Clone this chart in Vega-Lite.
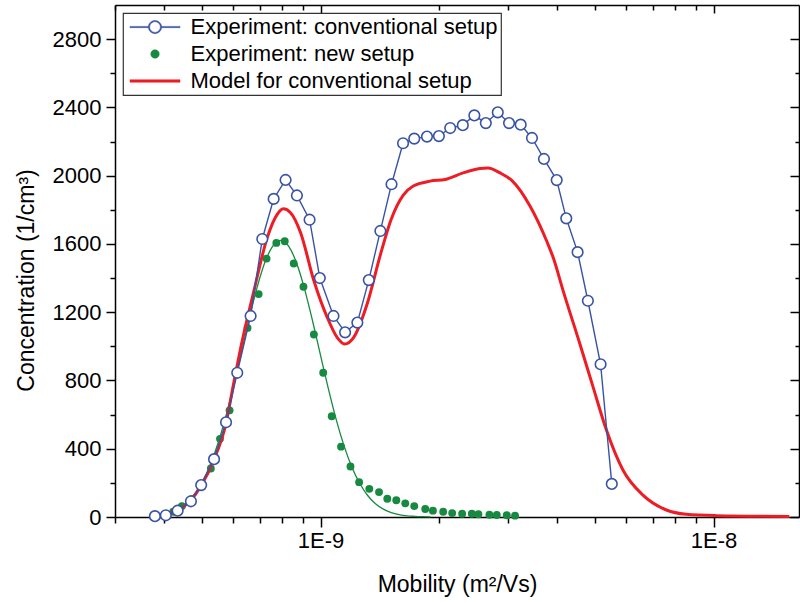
{
  "$schema": "https://vega.github.io/schema/vega-lite/v6.json",
  "autosize": "none",
  "width": 684,
  "height": 512,
  "padding": {"left": 115, "top": 5, "right": 1, "bottom": 86},
  "background": "white",
  "config": {
    "view": {"stroke": null},
    "font": "Liberation Sans",
    "axis": {
      "grid": false,
      "domainColor": "black",
      "domainWidth": 1.5,
      "tickColor": "black",
      "tickWidth": 1.5,
      "labelFont": "Liberation Sans",
      "labelFontSize": 22,
      "labelColor": "black",
      "titleFont": "Liberation Sans",
      "titleFontSize": 23,
      "titleFontWeight": "normal",
      "titleColor": "black",
      "labelFlush": false,
      "labelOverlap": false,
      "labelBound": false
    },
    "legend": {
      "labelFont": "Liberation Sans",
      "labelFontSize": 22,
      "labelColor": "black"
    }
  },
  "datasets": {
    "conventional": [
      {"mobility": 3.79e-10, "conc": 5},
      {"mobility": 4.04e-10, "conc": 10},
      {"mobility": 4.33e-10, "conc": 37},
      {"mobility": 4.68e-10, "conc": 92},
      {"mobility": 4.97e-10, "conc": 187},
      {"mobility": 5.36e-10, "conc": 339},
      {"mobility": 5.75e-10, "conc": 555},
      {"mobility": 6.14e-10, "conc": 845},
      {"mobility": 6.64e-10, "conc": 1178},
      {"mobility": 7.11e-10, "conc": 1629},
      {"mobility": 7.60e-10, "conc": 1864},
      {"mobility": 8.15e-10, "conc": 1975},
      {"mobility": 8.71e-10, "conc": 1884},
      {"mobility": 9.38e-10, "conc": 1742},
      {"mobility": 9.96e-10, "conc": 1400},
      {"mobility": 1.079e-9, "conc": 1178},
      {"mobility": 1.155e-9, "conc": 1082},
      {"mobility": 1.241e-9, "conc": 1139},
      {"mobility": 1.327e-9, "conc": 1388},
      {"mobility": 1.420e-9, "conc": 1676},
      {"mobility": 1.516e-9, "conc": 1950},
      {"mobility": 1.622e-9, "conc": 2190},
      {"mobility": 1.732e-9, "conc": 2217},
      {"mobility": 1.866e-9, "conc": 2229},
      {"mobility": 2.001e-9, "conc": 2232},
      {"mobility": 2.138e-9, "conc": 2279},
      {"mobility": 2.302e-9, "conc": 2296},
      {"mobility": 2.463e-9, "conc": 2353},
      {"mobility": 2.634e-9, "conc": 2308},
      {"mobility": 2.825e-9, "conc": 2371},
      {"mobility": 3.018e-9, "conc": 2308},
      {"mobility": 3.231e-9, "conc": 2299},
      {"mobility": 3.452e-9, "conc": 2221},
      {"mobility": 3.703e-9, "conc": 2098},
      {"mobility": 3.99e-9, "conc": 1974},
      {"mobility": 4.22e-9, "conc": 1750},
      {"mobility": 4.51e-9, "conc": 1552},
      {"mobility": 4.79e-9, "conc": 1267},
      {"mobility": 5.16e-9, "conc": 895},
      {"mobility": 5.51e-9, "conc": 194}
    ],
    "newsetup": [
      {"mobility": 4.22e-10, "conc": 31},
      {"mobility": 4.44e-10, "conc": 64},
      {"mobility": 4.69e-10, "conc": 105},
      {"mobility": 4.96e-10, "conc": 180},
      {"mobility": 5.26e-10, "conc": 284},
      {"mobility": 5.55e-10, "conc": 458},
      {"mobility": 5.87e-10, "conc": 625},
      {"mobility": 6.17e-10, "conc": 841},
      {"mobility": 6.52e-10, "conc": 1108},
      {"mobility": 6.96e-10, "conc": 1306},
      {"mobility": 7.29e-10, "conc": 1514},
      {"mobility": 7.72e-10, "conc": 1606},
      {"mobility": 8.11e-10, "conc": 1616},
      {"mobility": 8.55e-10, "conc": 1485},
      {"mobility": 9.05e-10, "conc": 1349},
      {"mobility": 9.62e-10, "conc": 1069},
      {"mobility": 1.016e-9, "conc": 845},
      {"mobility": 1.068e-9, "conc": 590},
      {"mobility": 1.128e-9, "conc": 412},
      {"mobility": 1.192e-9, "conc": 296},
      {"mobility": 1.254e-9, "conc": 204},
      {"mobility": 1.331e-9, "conc": 165},
      {"mobility": 1.409e-9, "conc": 146},
      {"mobility": 1.479e-9, "conc": 107},
      {"mobility": 1.559e-9, "conc": 98},
      {"mobility": 1.643e-9, "conc": 80},
      {"mobility": 1.732e-9, "conc": 64},
      {"mobility": 1.847e-9, "conc": 47},
      {"mobility": 1.932e-9, "conc": 37},
      {"mobility": 2.052e-9, "conc": 31},
      {"mobility": 2.163e-9, "conc": 23},
      {"mobility": 2.293e-9, "conc": 19},
      {"mobility": 2.427e-9, "conc": 19},
      {"mobility": 2.522e-9, "conc": 16},
      {"mobility": 2.690e-9, "conc": 13},
      {"mobility": 2.809e-9, "conc": 12},
      {"mobility": 2.978e-9, "conc": 10},
      {"mobility": 3.126e-9, "conc": 8}
    ],
    "newfit": [
      {"mobility": 3.981e-10, "conc": 16},
      {"mobility": 4.169e-10, "conc": 29},
      {"mobility": 4.365e-10, "conc": 50},
      {"mobility": 4.571e-10, "conc": 84},
      {"mobility": 4.786e-10, "conc": 135},
      {"mobility": 5.012e-10, "conc": 208},
      {"mobility": 5.248e-10, "conc": 309},
      {"mobility": 5.495e-10, "conc": 438},
      {"mobility": 5.754e-10, "conc": 597},
      {"mobility": 6.026e-10, "conc": 780},
      {"mobility": 6.310e-10, "conc": 978},
      {"mobility": 6.607e-10, "conc": 1176},
      {"mobility": 6.918e-10, "conc": 1356},
      {"mobility": 7.244e-10, "conc": 1501},
      {"mobility": 7.586e-10, "conc": 1592},
      {"mobility": 7.943e-10, "conc": 1621},
      {"mobility": 8.318e-10, "conc": 1583},
      {"mobility": 8.710e-10, "conc": 1482},
      {"mobility": 9.120e-10, "conc": 1331},
      {"mobility": 9.550e-10, "conc": 1147},
      {"mobility": 1.000e-9, "conc": 948},
      {"mobility": 1.047e-9, "conc": 752},
      {"mobility": 1.096e-9, "conc": 572},
      {"mobility": 1.148e-9, "conc": 417},
      {"mobility": 1.202e-9, "conc": 292},
      {"mobility": 1.259e-9, "conc": 196},
      {"mobility": 1.318e-9, "conc": 126},
      {"mobility": 1.380e-9, "conc": 78},
      {"mobility": 1.445e-9, "conc": 46},
      {"mobility": 1.514e-9, "conc": 26},
      {"mobility": 1.585e-9, "conc": 14},
      {"mobility": 1.660e-9, "conc": 7},
      {"mobility": 1.738e-9, "conc": 4},
      {"mobility": 1.820e-9, "conc": 2},
      {"mobility": 1.905e-9, "conc": 1}
    ],
    "model": [
      {"mobility": 3.70e-10, "conc": 3},
      {"mobility": 4.04e-10, "conc": 15},
      {"mobility": 4.34e-10, "conc": 41},
      {"mobility": 4.68e-10, "conc": 99},
      {"mobility": 4.96e-10, "conc": 181},
      {"mobility": 5.35e-10, "conc": 333},
      {"mobility": 5.74e-10, "conc": 543},
      {"mobility": 6.02e-10, "conc": 790},
      {"mobility": 6.27e-10, "conc": 994},
      {"mobility": 6.77e-10, "conc": 1325},
      {"mobility": 7.32e-10, "conc": 1637},
      {"mobility": 7.76e-10, "conc": 1773},
      {"mobility": 8.04e-10, "conc": 1806},
      {"mobility": 8.39e-10, "conc": 1783},
      {"mobility": 8.90e-10, "conc": 1666},
      {"mobility": 9.62e-10, "conc": 1384},
      {"mobility": 1.040e-9, "conc": 1170},
      {"mobility": 1.102e-9, "conc": 1053},
      {"mobility": 1.152e-9, "conc": 1014},
      {"mobility": 1.215e-9, "conc": 1053},
      {"mobility": 1.314e-9, "conc": 1248},
      {"mobility": 1.420e-9, "conc": 1536},
      {"mobility": 1.514e-9, "conc": 1746},
      {"mobility": 1.624e-9, "conc": 1886},
      {"mobility": 1.722e-9, "conc": 1939},
      {"mobility": 1.902e-9, "conc": 1968},
      {"mobility": 2.076e-9, "conc": 1978},
      {"mobility": 2.306e-9, "conc": 2016},
      {"mobility": 2.546e-9, "conc": 2042},
      {"mobility": 2.669e-9, "conc": 2045},
      {"mobility": 2.863e-9, "conc": 2016},
      {"mobility": 3.066e-9, "conc": 1972},
      {"mobility": 3.412e-9, "conc": 1822},
      {"mobility": 3.762e-9, "conc": 1617},
      {"mobility": 3.909e-9, "conc": 1520},
      {"mobility": 4.144e-9, "conc": 1325},
      {"mobility": 4.571e-9, "conc": 1014},
      {"mobility": 4.939e-9, "conc": 761},
      {"mobility": 5.342e-9, "conc": 508},
      {"mobility": 5.886e-9, "conc": 274},
      {"mobility": 6.614e-9, "conc": 128},
      {"mobility": 7.586e-9, "conc": 41},
      {"mobility": 8.52e-9, "conc": 16},
      {"mobility": 1.016e-8, "conc": 8},
      {"mobility": 1.559e-8, "conc": 3}
    ]
  },
  "resolve": {"axis": {"x": "independent", "y": "independent"}},
  "layer": [
    {
      "data": {"name": "newfit"},
      "mark": {"type": "line", "color": "#178a41", "strokeWidth": 1.3, "interpolate": "monotone"},
      "encoding": {
        "x": {
          "field": "mobility", "type": "quantitative",
          "scale": {"type": "log", "domain": [3e-10, 1.65e-8], "nice": false},
          "axis": {
            "orient": "bottom",
            "title": "Mobility (m²/Vs)",
            "values": [3e-10, 4e-10, 5e-10, 6e-10, 7e-10, 8e-10, 9e-10, 1e-9, 2e-9, 3e-9, 4e-9, 5e-9, 6e-9, 7e-9, 8e-9, 9e-9, 1e-8],
            "labelExpr": "abs(log(datum.value)/LN10 - round(log(datum.value)/LN10)) < 1e-6 ? '1E' + round(log(datum.value)/LN10) : ''",
            "tickSize": {"condition": {"test": "abs(log(datum.value)/LN10 - round(log(datum.value)/LN10)) < 1e-6", "value": 10}, "value": 6},
            "labelPadding": 3,
            "titlePadding": 22
          }
        },
        "y": {
          "field": "conc", "type": "quantitative",
          "scale": {"domain": [0, 3000], "nice": false},
          "axis": {
            "orient": "left",
            "title": "Concentration (1/cm³)",
            "values": [0, 200, 400, 600, 800, 1000, 1200, 1400, 1600, 1800, 2000, 2200, 2400, 2600, 2800],
            "labelExpr": "datum.value % 400 === 0 ? '' + datum.value : ''",
            "tickSize": {"condition": {"test": "datum.value % 400 === 0", "value": 9}, "value": 5},
            "labelPadding": 5,
            "titlePadding": 14,
            "titleY": 275
          }
        }
      }
    },
    {
      "data": {"name": "newsetup"},
      "mark": {"type": "circle", "size": 62, "opacity": 1},
      "encoding": {
        "x": {"field": "mobility", "type": "quantitative", "scale": {"type": "log", "domain": [3e-10, 1.65e-8], "nice": false}, "axis": null},
        "y": {"field": "conc", "type": "quantitative", "scale": {"domain": [0, 3000], "nice": false}, "axis": null},
        "color": {"datum": "Experiment: new setup", "type": "nominal"}
      }
    },
    {
      "data": {"name": "model"},
      "mark": {"type": "line", "strokeWidth": 3, "interpolate": "monotone"},
      "encoding": {
        "x": {"field": "mobility", "type": "quantitative", "scale": {"type": "log", "domain": [3e-10, 1.65e-8], "nice": false}, "axis": null},
        "y": {"field": "conc", "type": "quantitative", "scale": {"domain": [0, 3000], "nice": false}, "axis": null},
        "color": {"datum": "Model for conventional setup", "type": "nominal"}
      }
    },
    {
      "data": {"name": "conventional"},
      "mark": {"type": "line", "strokeWidth": 1.4},
      "encoding": {
        "x": {"field": "mobility", "type": "quantitative", "scale": {"type": "log", "domain": [3e-10, 1.65e-8], "nice": false}, "axis": null},
        "y": {"field": "conc", "type": "quantitative", "scale": {"domain": [0, 3000], "nice": false}, "axis": null},
        "color": {
          "datum": "Experiment: conventional setup",
          "type": "nominal",
          "scale": {
            "domain": ["Experiment: conventional setup", "Experiment: new setup", "Model for conventional setup"],
            "range": ["#3953a4", "#178a41", "#ee1c24"]
          },
          "legend": {
            "title": null,
            "orient": "top-left",
            "offset": 8,
            "padding": 3,
            "fillColor": "white",
            "strokeColor": "#333333",
            "symbolSize": 2500,
            "symbolStrokeWidth": 0.5,
            "symbolOffset": 3.5,
            "clipHeight": 22,
            "labelOffset": 10,
            "rowPadding": 5,
            "labelLimit": 400,
            "encode": {
              "legend": {"update": {"stroke": {"value": "#333333"}, "strokeWidth": {"value": 1.2}, "fill": {"value": "#ffffff"}}},
              "symbols": {
                "update": {
                  "shape": {"signal": "datum.value === 'Experiment: conventional setup' ? 'M-1,-0.025H-0.24V0.025H-1Z M0.24,-0.025H1V0.025H0.24Z M0.265,0A0.265,0.265,0,1,1,-0.265,0A0.265,0.265,0,1,1,0.265,0Z M0.215,0A0.215,0.215,0,1,0,-0.215,0A0.215,0.215,0,1,0,0.215,0Z' : datum.value === 'Experiment: new setup' ? 'M0.17,0A0.17,0.17,0,1,1,-0.17,0A0.17,0.17,0,1,1,0.17,0Z' : 'M-1,-0.05H1V0.05H-1Z'"},
                  "strokeWidth": {"value": 0.5},
                  "size": {"value": 2500}
                }
              }
            }
          }
        }
      }
    },
    {
      "data": {"name": "conventional"},
      "mark": {"type": "point", "filled": true, "fill": "white", "stroke": "#3953a4", "strokeWidth": 1.6, "size": 112, "opacity": 1},
      "encoding": {
        "x": {
          "field": "mobility", "type": "quantitative",
          "scale": {"type": "log", "domain": [3e-10, 1.65e-8], "nice": false},
          "axis": {
            "orient": "top",
            "title": null,
            "labels": false,
            "values": [3e-10, 4e-10, 5e-10, 6e-10, 7e-10, 8e-10, 9e-10, 1e-9, 2e-9, 3e-9, 4e-9, 5e-9, 6e-9, 7e-9, 8e-9, 9e-9, 1e-8],
            "tickSize": {"condition": {"test": "abs(log(datum.value)/LN10 - round(log(datum.value)/LN10)) < 1e-6", "value": -8}, "value": -5}
          }
        },
        "y": {
          "field": "conc", "type": "quantitative",
          "scale": {"domain": [0, 3000], "nice": false},
          "axis": {
            "orient": "right",
            "title": null,
            "labels": false,
            "values": [0, 200, 400, 600, 800, 1000, 1200, 1400, 1600, 1800, 2000, 2200, 2400, 2600, 2800],
            "tickSize": {"condition": {"test": "datum.value % 400 === 0", "value": -9}, "value": -4}
          }
        }
      }
    }
  ]
}
